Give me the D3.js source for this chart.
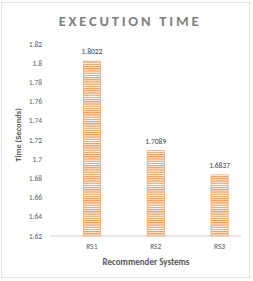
<!DOCTYPE html>
<html lang="en">
<head>
<meta charset="UTF-8">
<title>Execution Time</title>
<script src="https://d3js.org/d3.v7.min.js"></script>
<style>
 body {margin: 0; padding: 0; background: #fff;}
 text {font-family: Calibri, Carlito, "Open Sans", sans-serif;}
</style>
</head>
<body>
<svg id="chart" width="253" height="281"></svg>
<script>
const systems = ['RS1', 'RS2', 'RS3'];
const times = [1.8022, 1.7089, 1.6837];
const yTicks = [1.62, 1.64, 1.66, 1.68, 1.7, 1.72, 1.74, 1.76, 1.78, 1.8, 1.82];

const svg = d3.select('#chart');
const margin = {left: 50, right: 12, top: 44, bottom: 45};
const W = 253, H = 281;

// chart frame
svg.append('rect')
  .attr('x', 1.5).attr('y', 2.5).attr('width', 248).attr('height', 275)
  .attr('fill', '#fff').attr('stroke', '#e3e3e3');

// stripe pattern
const defs = svg.append('defs');
const pat = defs.append('pattern')
  .attr('id', 'stripes').attr('patternUnits', 'userSpaceOnUse')
  .attr('width', 4).attr('height', 2.2);
pat.append('rect').attr('width', 4).attr('height', 2.2).attr('fill', '#fff');
pat.append('rect').attr('width', 4).attr('height', 1.2).attr('fill', '#f19a55');

// bars sit a bit right of the axis line in the original
const x = d3.scaleBand().domain(systems)
  .range([60, 251.5]).paddingInner(0.73).paddingOuter(0.365);
const y = d3.scaleLinear().domain([1.62, 1.82]).range([H - margin.bottom, margin.top]);

// y tick labels
svg.append('g').selectAll('text').data(yTicks).enter().append('text')
  .attr('x', 42).attr('y', d => y(d) + 2.5)
  .attr('text-anchor', 'end').attr('font-size', 7.5).attr('fill', '#595959')
  .text(d => d);

// bars
svg.append('g').selectAll('rect').data(times).enter().append('rect')
  .attr('x', (d, i) => x(systems[i]))
  .attr('y', d => y(d))
  .attr('width', x.bandwidth())
  .attr('height', d => y(1.62) - y(d))
  .attr('fill', 'url(#stripes)')
  .attr('stroke', '#f19a55').attr('stroke-width', 0.6);

// value labels
svg.append('g').selectAll('text').data(times).enter().append('text')
  .attr('x', (d, i) => x(systems[i]) + x.bandwidth() / 2)
  .attr('y', d => y(d) - 7)
  .attr('text-anchor', 'middle').attr('font-size', 7.5).attr('fill', '#404040')
  .text(d => d.toFixed(4));

// x axis line
svg.append('line')
  .attr('x1', margin.left).attr('x2', 241)
  .attr('y1', y(1.62)).attr('y2', y(1.62))
  .attr('stroke', '#d0d0d0').attr('stroke-width', 1);

// x tick labels
svg.append('g').selectAll('text').data(systems).enter().append('text')
  .attr('x', d => x(d) + x.bandwidth() / 2)
  .attr('y', y(1.62) + 13)
  .attr('text-anchor', 'middle').attr('font-size', 7.5).attr('fill', '#595959')
  .text(d => d);

// axis titles
svg.append('text')
  .attr('x', 146).attr('y', 265)
  .attr('text-anchor', 'middle').attr('font-size', 9).attr('font-weight', 'bold')
  .attr('fill', '#595959').text('Recommender Systems');

svg.append('text')
  .attr('transform', 'translate(21,135) rotate(-90)')
  .attr('text-anchor', 'middle').attr('font-size', 8.5).attr('font-weight', 'bold')
  .attr('fill', '#595959').text('Time (Seconds)');

// title
svg.append('text')
  .attr('x', 130).attr('y', 26)
  .attr('text-anchor', 'middle').attr('font-size', 14.5).attr('font-weight', 'bold')
  .attr('letter-spacing', 2.8).attr('fill', '#7f7f7f').text('EXECUTION TIME');
</script>
</body>
</html>
